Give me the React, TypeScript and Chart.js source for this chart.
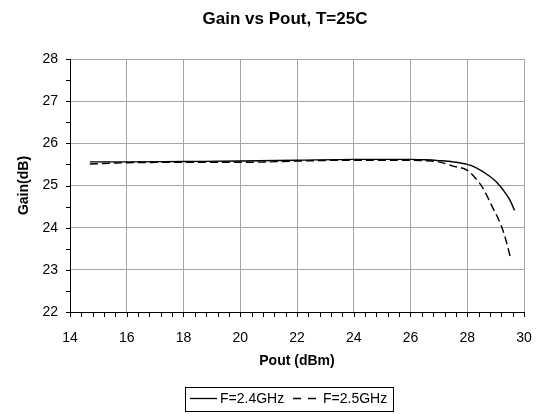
import React, { useEffect, useRef } from "react";
import { Chart, registerables } from "chart.js";

Chart.register(...registerables);

const TITLE = "Gain vs Pout, T=25C";
const X_TITLE = "Pout (dBm)";
const Y_TITLE = "Gain(dB)";
const SERIES_NAMES = ["F=2.4GHz", "F=2.5GHz"];

// F=2.4GHz (solid)
const poutA = [14.7, 16, 18, 20, 22, 24, 25, 26, 26.5, 27, 27.5, 28, 28.32, 28.79, 29.02, 29.26, 29.49, 29.67];
const gainA = [25.56, 25.56, 25.57, 25.58, 25.6, 25.62, 25.62, 25.62, 25.61, 25.59, 25.56, 25.5, 25.42, 25.22, 25.09, 24.9, 24.67, 24.41];

// F=2.5GHz (dashed)
const poutB = [14.7, 15.5, 16, 18, 20, 21, 22, 24, 25, 26, 26.5, 27, 27.5, 28, 28.32, 28.55, 28.9, 29.1, 29.3, 29.53];
const gainB = [25.51, 25.53, 25.54, 25.55, 25.55, 25.56, 25.58, 25.6, 25.6, 25.6, 25.59, 25.56, 25.46, 25.36, 25.15, 24.94, 24.47, 24.2, 23.85, 23.27];

const xTickValues = [14, 16, 18, 20, 22, 24, 26, 28, 30];
const yTickValues = [22, 23, 24, 25, 26, 27, 28];
const X_MINOR_STEP = 0.4;
const Y_MINOR_STEP = 0.5;

const FONT = "'Liberation Sans', Arial, sans-serif";
const SOLID_DASH: number[] = [];
const DASHED = [8, 4];

const decorPlugin = {
  id: "decor",
  afterDraw(chart: any) {
    const { ctx, chartArea, scales } = chart;
    const x = scales.x;
    const y = scales.y;
    ctx.save();
    // minor + major tick marks
    ctx.strokeStyle = "#000";
    ctx.lineWidth = 1;
    ctx.setLineDash([]);
    ctx.beginPath();
    const x0 = xTickValues[0];
    const x1 = xTickValues[xTickValues.length - 1];
    for (let v = x0; v <= x1 + 1e-6; v += X_MINOR_STEP) {
      const px = Math.round(x.getPixelForValue(v)) + 0.5;
      ctx.moveTo(px, chartArea.bottom);
      ctx.lineTo(px, chartArea.bottom + 5);
    }
    const y0 = yTickValues[0];
    const y1 = yTickValues[yTickValues.length - 1];
    for (let v = y0; v <= y1 + 1e-6; v += Y_MINOR_STEP) {
      const py = Math.round(y.getPixelForValue(v)) + 0.5;
      ctx.moveTo(chartArea.left - 4, py);
      ctx.lineTo(chartArea.left, py);
    }
    ctx.stroke();

    // title
    ctx.fillStyle = "#000";
    ctx.font = `bold 17px ${FONT}`;
    ctx.textAlign = "center";
    ctx.textBaseline = "middle";
    ctx.fillText(TITLE, 285, 19);

    // legend
    ctx.font = `14px ${FONT}`;
    ctx.textAlign = "left";
    const boxL = 185.5, boxT = 387.5, boxW = 208, boxH = 24;
    ctx.strokeRect(boxL, boxT, boxW, boxH);
    const ly = 398.5;
    const datasets = chart.data.datasets;
    const entries = [
      { x: 190, len: 27, tx: 220 },
      { x: 293, len: 24, tx: 323 },
    ];
    entries.forEach((e, i) => {
      const ds = datasets[i];
      ctx.strokeStyle = ds.borderColor;
      ctx.lineWidth = 1.3;
      ctx.setLineDash(i === 1 ? [8, 7] : []);
      ctx.beginPath();
      ctx.moveTo(e.x, ly);
      ctx.lineTo(e.x + e.len, ly);
      ctx.stroke();
      ctx.setLineDash([]);
      ctx.fillText(ds.label, e.tx, ly + 1);
    });
    ctx.restore();
  },
};

export default function App() {
  const ref = useRef<HTMLCanvasElement | null>(null);
  useEffect(() => {
    if (!ref.current) return;
    const chart = new Chart(ref.current, {
      type: "line",
      data: {
        datasets: [
          {
            label: SERIES_NAMES[0],
            data: poutA.map((v, i) => ({ x: v, y: gainA[i] })),
            borderColor: "#000",
            borderWidth: 1.4,
            borderDash: SOLID_DASH,
            pointRadius: 0,
            fill: false,
            cubicInterpolationMode: "monotone",
          },
          {
            label: SERIES_NAMES[1],
            data: poutB.map((v, i) => ({ x: v, y: gainB[i] })),
            borderColor: "#000",
            borderWidth: 1.4,
            borderDash: DASHED,
            pointRadius: 0,
            fill: false,
            cubicInterpolationMode: "monotone",
          },
        ],
      },
      options: {
        responsive: false,
        animation: false,
        devicePixelRatio: 1,
        layout: { padding: { top: 59, right: 14, left: 0, bottom: 44.6 } },
        plugins: {
          legend: { display: false },
          title: { display: false },
          tooltip: { enabled: false },
        },
        scales: {
          x: {
            type: "linear",
            min: xTickValues[0],
            max: xTickValues[xTickValues.length - 1],
            afterBuildTicks: (s: any) => {
              s.ticks = xTickValues.map((v) => ({ value: v }));
            },
            afterFit: (s: any) => {
              s.height = 57.4;
              s.paddingLeft = 0;
              s.paddingRight = 0;
            },
            grid: { color: "#a6a6a6", lineWidth: 1, drawTicks: false },
            border: { color: "#000", width: 1 },
            ticks: {
              padding: 18,
              color: "#000",
              font: { family: FONT, size: 14 },
              maxRotation: 0,
            },
            title: {
              display: true,
              text: X_TITLE,
              color: "#000",
              font: { family: FONT, size: 14, weight: "bold" },
              padding: 0,
            },
          },
          y: {
            type: "linear",
            min: yTickValues[0],
            max: yTickValues[yTickValues.length - 1],
            afterBuildTicks: (s: any) => {
              s.ticks = yTickValues.map((v) => ({ value: v }));
            },
            afterFit: (s: any) => {
              s.width = 70;
            },
            grid: { color: "#a6a6a6", lineWidth: 1, drawTicks: false },
            border: { color: "#000", width: 1 },
            ticks: {
              padding: 12,
              color: "#000",
              font: { family: FONT, size: 14 },
            },
            title: {
              display: true,
              text: Y_TITLE,
              color: "#000",
              font: { family: FONT, size: 14, weight: "bold" },
              padding: { top: 15.6, bottom: 0 },
            },
          },
        },
      },
      plugins: [decorPlugin],
    } as any);
    return () => chart.destroy();
  }, []);
  return (
    <div style={{ position: "fixed", left: 0, top: 0, width: 538, height: 414, background: "#fff" }}>
      <canvas ref={ref} width={538} height={414} />
    </div>
  );
}
